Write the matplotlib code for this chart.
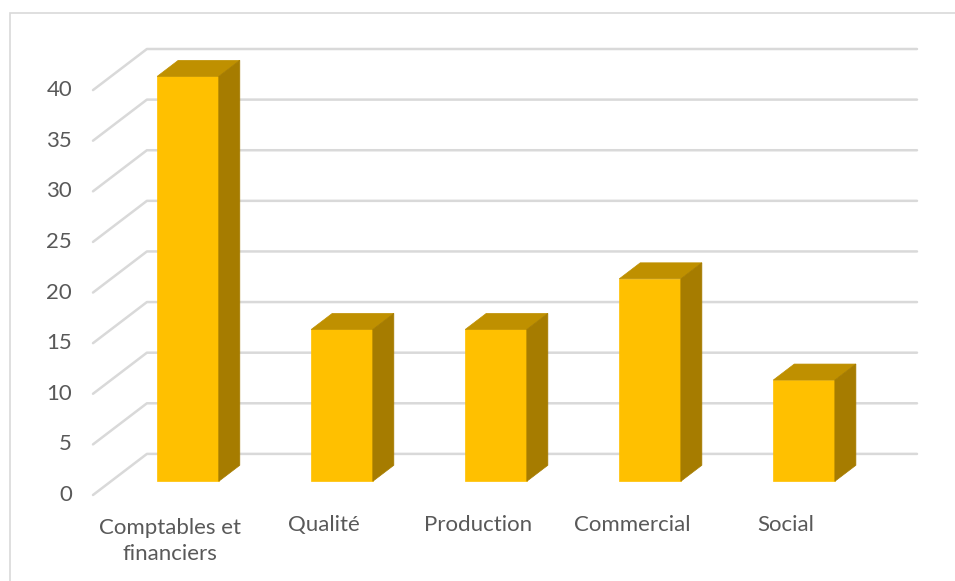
import matplotlib.pyplot as plt
import matplotlib.patches as mpatches

# values per department
categories = ['Comptables et\nfinanciers', 'Qualité', 'Production', 'Commercial', 'Social']
values = [40, 15, 15, 20, 10]
y_ticks = [0, 5, 10, 15, 20, 25, 30, 35, 40]

# oblique depth of the floor, in data units (x: category slots, y: value units)
DEPTH_X = 0.35
DEPTH_Y = 4.06
BAR_POS = 1 / 3      # depth where the bar front face sits
BAR_DEPTH = 0.39     # depth of the bar itself
BAR_WIDTH = 0.4

FRONT = '#FFC000'
TOP = '#BF9000'
SIDE = '#A67C00'
GRID = '#D9D9D9'
TEXT = '#595959'

plt.rcParams['font.family'] = ['Lato', 'DejaVu Sans']

fig = plt.figure(figsize=(9.55, 5.81), dpi=100)
ax = fig.add_axes([93 / 955, 1 - 495 / 581, (917 - 93) / 955, (495 - 49) / 581])
ax.set_xlim(0, len(categories) + DEPTH_X)
ax.set_ylim(0, y_ticks[-1] + DEPTH_Y)
ax.axis('off')

# chart area frame
fig.patches.append(mpatches.Rectangle((10 / 955, -0.1), 1.1, 1 - 13 / 581 + 0.1,
                                      transform=fig.transFigure, fill=False,
                                      edgecolor=GRID, linewidth=1.2))

# gridlines: diagonal on the side, horizontal on the back wall
for v in y_ticks:
    ax.plot([0, DEPTH_X, len(categories) + DEPTH_X], [v, v + DEPTH_Y, v + DEPTH_Y],
            color=GRID, linewidth=1.8, solid_capstyle='round', clip_on=False, zorder=1)
    ax.text(-0.136, v, str(v), ha='right', va='center', fontsize=16, color=TEXT)

# bars drawn as three faces
for i, v in enumerate(values):
    x0 = i + 0.5 - BAR_WIDTH / 2 + DEPTH_X * BAR_POS
    x1 = x0 + BAR_WIDTH
    y0 = DEPTH_Y * BAR_POS
    y1 = y0 + v
    dx = DEPTH_X * BAR_DEPTH
    dy = DEPTH_Y * BAR_DEPTH
    front = mpatches.Polygon([(x0, y0), (x1, y0), (x1, y1), (x0, y1)],
                             facecolor=FRONT, edgecolor=FRONT, linewidth=0.5, zorder=3)
    top = mpatches.Polygon([(x0, y1), (x1, y1), (x1 + dx, y1 + dy), (x0 + dx, y1 + dy)],
                           facecolor=TOP, edgecolor=TOP, linewidth=0.5, zorder=3)
    side = mpatches.Polygon([(x1, y0), (x1 + dx, y0 + dy), (x1 + dx, y1 + dy), (x1, y1)],
                            facecolor=SIDE, edgecolor=SIDE, linewidth=0.5, zorder=3)
    for p in (front, top, side):
        ax.add_patch(p)

# category labels under the front edge of the floor
# (baseline alignment sits on the last line, so push wrapped labels down)
line_step = 29 / 10.12
for i, name in enumerate(categories):
    n_lines = name.count('\n') + 1
    ax.text(i + 0.5, -3.56 - (n_lines - 1) * line_step, name, ha='center',
            va='baseline', fontsize=16, color=TEXT, linespacing=1.4)

fig.savefig('out.png', dpi=100)
